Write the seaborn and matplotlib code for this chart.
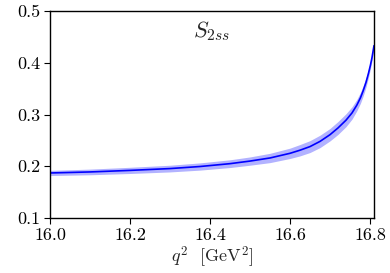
import numpy as np
import pandas as pd
import matplotlib
matplotlib.use("Agg")
import matplotlib.pyplot as plt
import seaborn as sns

q2 = [16.0, 16.1, 16.2, 16.3, 16.375, 16.45, 16.5, 16.55, 16.6, 16.625, 16.65, 16.675,
      16.7, 16.72, 16.74, 16.755, 16.767, 16.776, 16.783, 16.79, 16.796, 16.801, 16.805, 16.81]
s2ss = [0.187, 0.189, 0.192, 0.1955, 0.1995, 0.205, 0.210, 0.216, 0.225, 0.231, 0.238, 0.248,
        0.261, 0.274, 0.289, 0.303, 0.318, 0.332, 0.346, 0.362, 0.379, 0.395, 0.410, 0.433]
err = [0.005, 0.0055, 0.006, 0.0065, 0.007, 0.0075, 0.008, 0.009, 0.010, 0.011, 0.0115, 0.012,
       0.012, 0.0125, 0.0125, 0.012, 0.011, 0.0105, 0.010, 0.009, 0.008, 0.007, 0.006, 0.004]

sns.set_style("ticks")
plt.rcParams["font.family"] = "serif"
plt.rcParams["font.serif"] = ["cmr10", "DejaVu Serif"]
plt.rcParams["mathtext.fontset"] = "cm"
plt.rcParams["axes.formatter.use_mathtext"] = True

df = pd.DataFrame({"q2": q2, "S": s2ss, "err": err})

fig = plt.figure(figsize=(3.9, 2.73), dpi=100)
ax = fig.add_axes([50 / 390, 1 - 218 / 273, 324 / 390, 207 / 273])

ax.fill_between(df["q2"], df["S"] - df["err"], df["S"] + df["err"], color="blue", alpha=0.3, linewidth=0)
sns.lineplot(data=df, x="q2", y="S", ax=ax, color="blue", linewidth=1.2)

ax.set_xlim(16.0, 16.81)
ax.set_ylim(0.1, 0.5)
ax.set_xticks([16.0, 16.2, 16.4, 16.6, 16.8])
ax.set_yticks([0.1, 0.2, 0.3, 0.4, 0.5])
ax.set_xticklabels(["16.0", "16.2", "16.4", "16.6", "16.8"])
ax.set_yticklabels(["0.1", "0.2", "0.3", "0.4", "0.5"])
ax.tick_params(direction="out", length=4, width=0.8, labelsize=13, colors="black", pad=3)
for sp in ax.spines.values():
    sp.set_visible(True)
    sp.set_linewidth(1.0)
    sp.set_color("black")

ax.set_xlabel(r"$q^2$  [GeV$^2$]", fontsize=13, labelpad=1)
ax.set_ylabel("")
ax.text(0.5, 0.905, r"$S_{2ss}$", transform=ax.transAxes, ha="center", va="center", fontsize=16)

fig.savefig("out.png", dpi=100)
